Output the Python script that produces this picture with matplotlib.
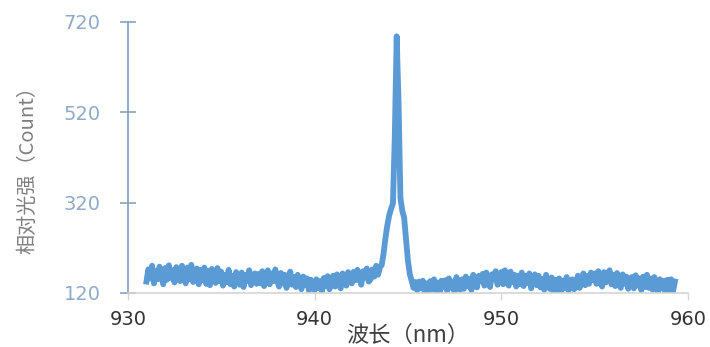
import numpy as np
import matplotlib
matplotlib.use("Agg")
import matplotlib.pyplot as plt

plt.rcParams['font.family'] = ['Noto Sans CJK SC', 'DejaVu Sans']

# ------------------------------
# Spectrum data, 0.1 nm steps from 931.0 nm
# ------------------------------
wavelength = np.round(np.arange(9310, 9594) / 10, 1)

counts = [
    145, 172, 152, 180, 141, 168, 150, 178, 157, 139,   # 931
    175, 149, 181, 153, 170, 143, 177, 158, 146, 180,   # 932
    163, 141, 176, 150, 182, 144, 167, 174, 139, 171,   # 933
    148, 176, 140, 169, 137, 173, 155, 142, 175, 146,   # 934
    167, 136, 160, 144, 171, 139, 158, 134, 166, 147,   # 935
    138, 165, 133, 160, 146, 170, 137, 158, 163, 140,   # 936
    162, 141, 168, 135, 157, 170, 139, 163, 146, 172,   # 937
    147, 134, 164, 141, 160, 131, 156, 167, 138, 155,   # 938
    133, 160, 141, 128, 156, 137, 152, 125, 149, 134,   # 939
    126, 150, 131, 146, 122, 153, 135, 157, 128, 149,   # 940
    158, 134, 161, 140, 130, 163, 145, 136, 166, 150,   # 941
    141, 167, 148, 171, 152, 138, 168, 154, 174, 145,   # 942
    150, 172, 156, 180, 160, 176, 182, 208, 242, 270,   # 943
    292, 306, 318, 470, 688, 540, 330, 302, 286, 240,   # 944
    192, 162, 147, 131, 144, 126, 145, 130, 147, 124,   # 945
    141, 121, 146, 128, 150, 124, 143, 120, 147, 133,   # 946
    148, 124, 152, 131, 145, 122, 155, 136, 127, 150,   # 947
    129, 156, 135, 151, 126, 160, 140, 132, 158, 146,   # 948
    162, 136, 165, 143, 133, 161, 150, 168, 138, 155,   # 949
    166, 139, 170, 148, 136, 167, 144, 160, 134, 158,   # 950
    139, 165, 135, 158, 142, 163, 130, 152, 161, 137,   # 951
    158, 132, 151, 127, 160, 138, 129, 154, 124, 149,   # 952
    126, 152, 122, 147, 131, 155, 125, 143, 150, 128,   # 953
    134, 158, 131, 152, 163, 137, 157, 140, 165, 148,   # 954
    163, 140, 168, 147, 134, 166, 143, 158, 170, 139,   # 955
    160, 135, 164, 142, 131, 161, 140, 156, 129, 152,   # 956
    155, 130, 159, 136, 152, 126, 156, 133, 160, 131,   # 957
    152, 127, 155, 133, 122, 150, 130, 147, 121, 149,   # 958
    126, 150, 124, 145,                                 # 959
]

x_ticks = [930, 940, 950, 960]
y_ticks = [120, 320, 520, 720]

# ------------------------------
# Plotting
# ------------------------------
fig = plt.figure(figsize=(7.1, 3.47), dpi=100)
ax = fig.add_axes([0.180, 0.156, 0.789, 0.781])

ax.plot(wavelength, counts, color="#5b9bd5", linewidth=4.2, solid_joinstyle="round")

ax.set_xlim(930, 960)
ax.set_ylim(120, 720)
ax.set_xticks(x_ticks)
ax.set_yticks(y_ticks)

for s in ["top", "right"]:
    ax.spines[s].set_visible(False)
ax.spines["left"].set_color("#86a3c3")
ax.spines["left"].set_linewidth(1.3)
ax.spines["bottom"].set_color("#d4d4d4")
ax.spines["bottom"].set_linewidth(1.2)

ax.tick_params(axis="y", direction="inout", length=11, width=1.2, color="#86a3c3",
               labelsize=14, labelcolor="#8fabc8", pad=14)
ax.tick_params(axis="x", direction="out", length=5, width=1.0, color="#d4d4d4",
               labelsize=14, labelcolor="#333333", pad=7)
for lab in ax.get_xticklabels() + ax.get_yticklabels():
    lab.set_family(["DejaVu Sans"])

ax.set_xlabel("波长（nm）", fontsize=16, color="#404040")
ax.xaxis.set_label_coords(0.5, -0.155)
ax.xaxis.label.set_va("center")
ax.set_ylabel("相对光强（Count）", fontsize=14.5, color="#808080")
ax.yaxis.set_label_coords(-0.179, 0.47)
ax.yaxis.label.set_va("center")

fig.savefig("out.png", dpi=100)
